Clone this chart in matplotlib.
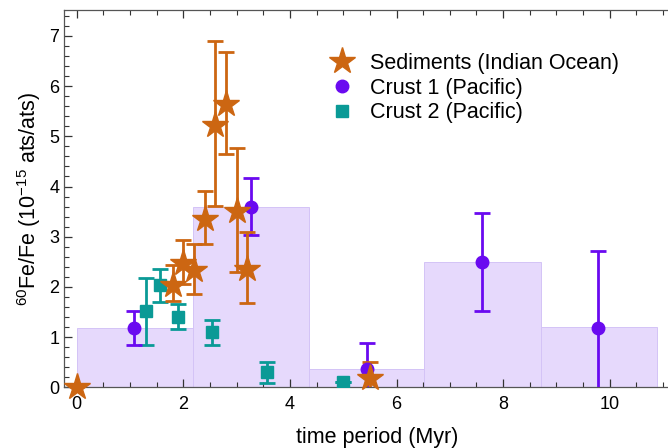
import numpy as np
import matplotlib
matplotlib.use("Agg")
import matplotlib.pyplot as plt
from matplotlib.ticker import MultipleLocator

plt.rcParams["font.family"] = ["Liberation Sans", "DejaVu Sans"]
plt.rcParams["mathtext.fontset"] = "custom"
plt.rcParams["mathtext.rm"] = "Liberation Sans"

# histogram of averaged ratio per time bin
bin_edges = [0.0, 2.175, 4.35, 6.52, 8.71, 10.88]
bin_heights = [1.18, 3.6, 0.365, 2.49, 1.2]

# sediments (Indian Ocean)
sed_t = [0.0, 1.8, 2.0, 2.2, 2.4, 2.6, 2.8, 3.0, 3.2, 5.5]
sed_v = [0.0, 2.03, 2.47, 2.33, 3.36, 5.23, 5.64, 3.52, 2.36, 0.18]
sed_lo = [0.0, 0.32, 0.41, 0.47, 0.5, 1.61, 1.0, 1.22, 0.69, 0.32]
sed_hi = [0.0, 0.4, 0.46, 0.52, 0.55, 1.66, 1.03, 1.25, 0.74, 0.32]

# crust 1 (Pacific)
c1_t = [1.08, 3.26, 5.44, 7.61, 9.79]
c1_v = [1.18, 3.6, 0.36, 2.49, 1.19]
c1_err = [0.34, 0.56, 0.52, 0.98, 1.53]

# crust 2 (Pacific)
c2_t = [1.29, 1.57, 1.89, 2.54, 3.57, 5.0]
c2_v = [1.51, 2.03, 1.41, 1.1, 0.3, 0.1]
c2_err = [0.67, 0.33, 0.25, 0.25, 0.21, 0.0]

orange = "#cc6612"
purple = "#6a0af0"
teal = "#0a9a96"

fig = plt.figure(figsize=(6.68, 4.48), dpi=100)
ax = fig.add_axes([64 / 668, 60.7 / 448, 625.6 / 668, 377.3 / 448])

widths = np.diff(bin_edges)
ax.bar(bin_edges[:-1], bin_heights, width=widths, align="edge",
       color="#e6d9fc", edgecolor="#d4c3f6", linewidth=0.7, zorder=1)

err_kw = dict(fmt="none", elinewidth=2, capsize=5.5, capthick=2, zorder=3)
ax.errorbar(c2_t, c2_v, yerr=c2_err, ecolor=teal, **err_kw)
ax.plot(c2_t, c2_v, "s", color=teal, ms=8, zorder=4, label="Crust 2 (Pacific)")
ax.errorbar(c1_t, c1_v, yerr=c1_err, ecolor=purple, **err_kw)
ax.plot(c1_t, c1_v, "o", color=purple, ms=9, zorder=4, label="Crust 1 (Pacific)")
ax.errorbar(sed_t, sed_v, yerr=[sed_lo, sed_hi], ecolor=orange, **err_kw)
ax.plot(sed_t, sed_v, "*", color=orange, ms=20, zorder=5, clip_on=False,
        label="Sediments (Indian Ocean)")

ax.set_xlim(-0.24, 11.5)
ax.set_ylim(0, 7.516)
ax.xaxis.set_major_locator(MultipleLocator(2))
ax.xaxis.set_minor_locator(MultipleLocator(0.5))
ax.yaxis.set_major_locator(MultipleLocator(1))
ax.yaxis.set_minor_locator(MultipleLocator(0.2))
ax.tick_params(which="both", direction="in", top=True, right=True,
               color="#333333", labelsize=13)
ax.tick_params(which="major", length=6, width=0.9)
ax.tick_params(which="minor", length=3.5, width=0.8)
ax.tick_params(axis="x", which="major", pad=6)
for s in ax.spines.values():
    s.set_color("#555555")
    s.set_linewidth(0.9)

ax.set_xlabel("time period (Myr)", fontsize=15.5, labelpad=10)
ax.set_ylabel(r"$^{60}$Fe/Fe (10$^{-15}$ ats/ats)", fontsize=15.5)

handles, labels = ax.get_legend_handles_labels()
ax.legend(handles[::-1], labels[::-1], loc="upper left",
          bbox_to_anchor=(331 / 668, 1 - 53 / 448), bbox_transform=fig.transFigure,
          frameon=False, fontsize=15.5, labelspacing=0.17, handlelength=1.0,
          handletextpad=0.8, borderpad=0, borderaxespad=0)

fig.savefig("out.png", dpi=100)
